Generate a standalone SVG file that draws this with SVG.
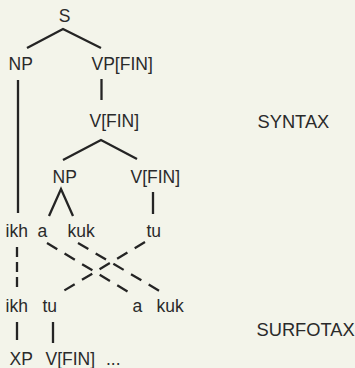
<svg xmlns="http://www.w3.org/2000/svg" width="355" height="368" viewBox="0 0 355 368">
<style>
text{font-family:"Liberation Sans",Arial,sans-serif;font-size:17.5px;fill:#2a2a2a}
.lbl{font-size:18.3px}
.ln{stroke:#242424;stroke-width:2.3;fill:none;stroke-linecap:butt}
.d1{stroke-dasharray:12 8.5}
.dv{stroke-dasharray:10 5}
</style>
<rect width="355" height="368" fill="#f3f4ea"/>
<g id="connectors">
<path class="ln" d="M27,48 L63,29 L101,48"/>
<path class="ln" d="M18,80 V213"/>
<path class="ln" d="M101.5,79 V100"/>
<path class="ln" d="M63,160 L101,140 L137,159"/>
<path class="ln" d="M49,216 L61,189 L73,216"/>
<path class="ln" d="M153,192 V214"/>
<path class="ln dv" d="M17,247 V292"/>
<path class="ln d1" d="M47,243 L130,293"/>
<path class="ln d1" d="M78,243 L163,293"/>
<path class="ln d1" d="M145,242 L60,293"/>
<path class="ln" d="M17,322 V340"/>
<path class="ln" d="M53,322 V343"/>
</g>
<g id="S"><text x="64.5" y="22" text-anchor="middle">S</text></g>
<g id="NP1"><text x="8.5" y="70">NP</text></g>
<g id="VPFIN"><text x="91.5" y="70">VP[FIN]</text></g>
<g id="VFIN1"><text x="89.5" y="127">V[FIN]</text></g>
<g id="NP2"><text x="52.5" y="183">NP</text></g>
<g id="VFIN2"><text x="130.5" y="183">V[FIN]</text></g>
<g id="ikh1"><text x="5.5" y="237">ikh</text></g>
<g id="a1"><text x="37.5" y="237">a</text></g>
<g id="kuk1"><text x="67.5" y="237">kuk</text></g>
<g id="tu1"><text x="146.5" y="237">tu</text></g>
<g id="ikh2"><text x="5.5" y="312">ikh</text></g>
<g id="tu2"><text x="42.5" y="312">tu</text></g>
<g id="a2"><text x="132.5" y="312">a</text></g>
<g id="kuk2"><text x="156.5" y="312">kuk</text></g>
<g id="XP"><text x="9.5" y="364.5">XP</text></g>
<g id="VFIN3"><text x="45.5" y="364.5">V[FIN] <tspan x="106">...</tspan></text></g>
<g id="syntax"><text class="lbl" x="257.5" y="128">SYNTAX</text></g>
<g id="surfotax"><text class="lbl" x="256.5" y="336">SURFOTAX</text></g>
</svg>
